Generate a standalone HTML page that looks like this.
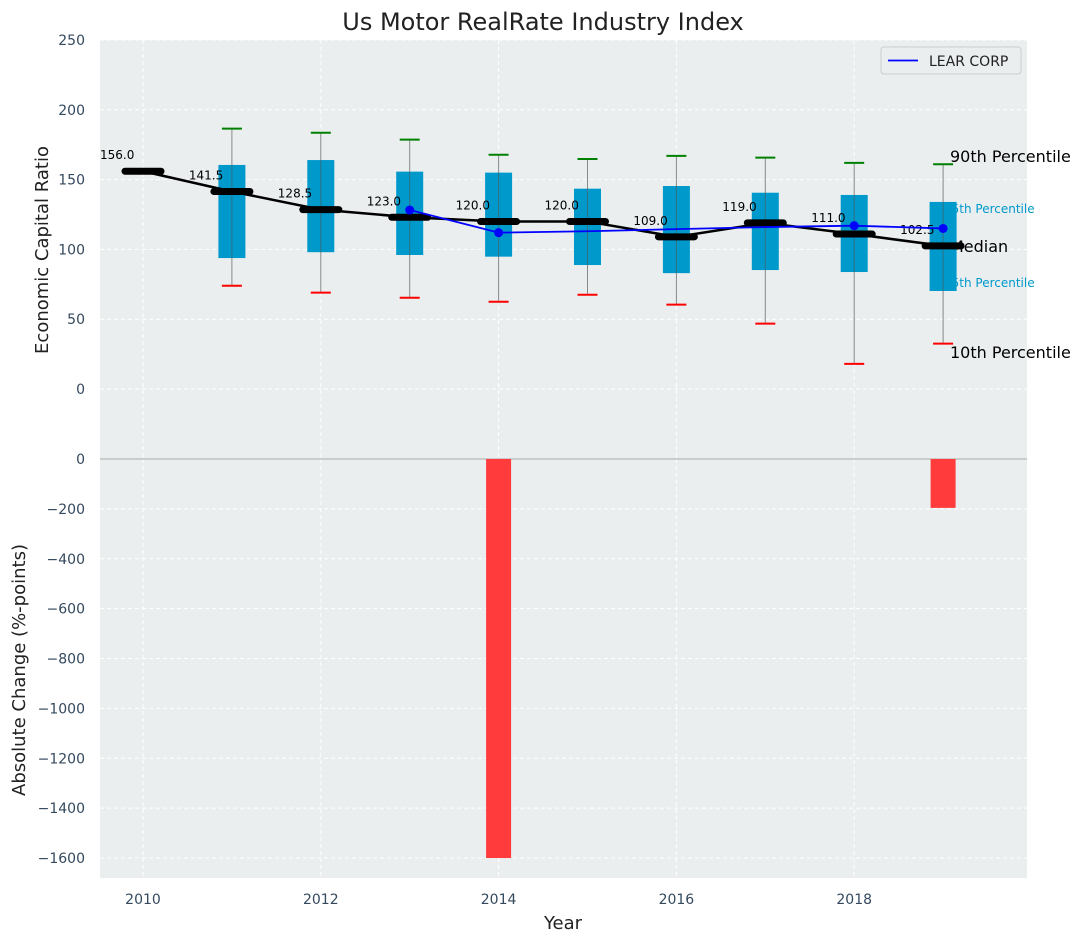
<!DOCTYPE html>
<html><head><meta charset="utf-8"><style>
body{margin:0;background:#fff;font-family:"Liberation Sans","DejaVu Sans",sans-serif}
svg text{font-family:"DejaVu Sans","Liberation Sans",sans-serif}
</style></head><body>
<svg id="c" width="1085" height="942" xmlns="http://www.w3.org/2000/svg"></svg>
<script>
const years=[2010,2011,2012,2013,2014,2015,2016,2017,2018,2019];
const medians=[156,141.5,128.5,123,120,120,109,119,111,102.5];
const q1=[null,93.8,98,96,94.8,88.8,83,85.2,83.8,70.2];
const q3=[null,160.5,164,155.7,155,143.5,145.4,140.6,139,134];
const p10=[null,74,69,65.4,62.5,67.5,60.4,46.8,18,32.5];
const p90=[null,186.5,183.6,178.6,167.8,164.8,167,165.7,162,161];
const learYears=[2013,2014,2015,2016,2017,2018,2019];
const learVals=[128.2,112,113,114.5,116,117,115];
const learMarkers=[2013,2014,2018,2019];
const changeYears=[2014,2019];
const changeVals=[-1600,-196];
const topTicks=[0,50,100,150,200,250];
const botTicks=[0,-200,-400,-600,-800,-1000,-1200,-1400,-1600];
const xTicks=[2010,2012,2014,2016,2018];

const svg=document.getElementById('c');
const NS='http://www.w3.org/2000/svg';
function el(t,a,p){const e=document.createElementNS(NS,t);for(const k in a)e.setAttribute(k,a[k]);(p||svg).appendChild(e);return e;}
const L=100,R=1027;
const X=y=>143+(y-2010)*88.9;
const YT=v=>389-v*1.396;
const YB=v=>459-v*0.2494;
const TC='#34495e';

let e=el('rect',{x:L,y:40,width:R-L,height:419,fill:'#eaeeef'});

e=el('rect',{x:L,y:459,width:R-L,height:419,fill:'#eaeeef'});


for(const t of topTicks){
  el('line',{x1:L,x2:R,y1:YT(t),y2:YT(t),stroke:'#fff','stroke-dasharray':'4,3','stroke-width':1});
  e=el('text',{x:85,y:YT(t)+5,'text-anchor':'end','font-size':14,fill:TC});e.textContent=t;
  
}
for(const t of botTicks){
  el('line',{x1:L,x2:R,y1:YB(t),y2:YB(t),stroke:'#fff','stroke-dasharray':'4,3','stroke-width':1});
  e=el('text',{x:85,y:YB(t)+5,'text-anchor':'end','font-size':14,fill:TC});e.textContent=String(t).replace('-','\u2212');
  
}
for(const t of xTicks){
  el('line',{x1:X(t),x2:X(t),y1:40,y2:459,stroke:'#fff','stroke-dasharray':'4,3'});
  el('line',{x1:X(t),x2:X(t),y1:459,y2:878,stroke:'#fff','stroke-dasharray':'4,3'});
  e=el('text',{x:X(t),y:904,'text-anchor':'middle','font-size':14,fill:TC});e.textContent=t;
  
}
el('line',{x1:L,x2:R,y1:459,y2:459,stroke:'#aaa','stroke-width':1});

// percentile labels (behind boxes)
const labs=[[162,'90th Percentile',16,'#000',950],[213,'75th Percentile',12,'#0099cc',944],[252,'Median',16,'#000',950],[287,'25th Percentile',12,'#0099cc',944],[358,'10th Percentile',16,'#000',950]];
for(const [yy,t,fs,c,xx] of labs){
  e=el('text',{x:xx,y:yy,'font-size':fs,fill:c});e.textContent=t;
  
}

years.forEach((y,i)=>{
  if(q1[i]==null)return;
  const x=X(y);
  el('line',{x1:x,x2:x,y1:YT(p90[i]),y2:YT(p10[i]),stroke:'#888','stroke-width':1});
  let b=el('rect',{x:x-13.5,y:YT(q3[i]),width:27,height:YT(q1[i])-YT(q3[i]),fill:'#0099cc'});
  
  el('line',{x1:x,x2:x,y1:YT(q3[i]),y2:YT(q1[i]),stroke:'#555','stroke-width':1,opacity:0.6});
  el('line',{x1:x-10,x2:x+10,y1:YT(p90[i]),y2:YT(p90[i]),stroke:'green','stroke-width':2});
  el('line',{x1:x-10,x2:x+10,y1:YT(p10[i]),y2:YT(p10[i]),stroke:'red','stroke-width':2});
});

e=el('polyline',{points:years.map((y,i)=>X(y)+','+YT(medians[i])).join(' '),fill:'none',stroke:'#000','stroke-width':2.5});

years.forEach((y,i)=>{
  el('line',{x1:X(y)-18,x2:X(y)+18,y1:YT(medians[i]),y2:YT(medians[i]),stroke:'#000','stroke-width':7,'stroke-linecap':'round'});
  let t=el('text',{x:X(y)-43,y:YT(medians[i])-12,'font-size':12,fill:'#000'});t.textContent=medians[i].toFixed(1);
  
});

e=el('polyline',{points:learYears.map((y,i)=>X(y)+','+YT(learVals[i])).join(' '),fill:'none',stroke:'blue','stroke-width':1.8});

learYears.forEach((y,i)=>{if(learMarkers.includes(y)){const m=el('circle',{cx:X(y),cy:YT(learVals[i]),r:4.5,fill:'blue'});}});

changeYears.forEach((y,i)=>{
  const b=el('rect',{x:X(y)-12.5,y:YB(0),width:25,height:YB(changeVals[i])-YB(0),fill:'#ff3b3b'});
  
});

const g=el('g',{});
el('rect',{x:881,y:47,width:140,height:27,rx:3,fill:'#eaeeef',stroke:'#ccc'},g);
el('line',{x1:888,x2:918,y1:60.5,y2:60.5,stroke:'blue','stroke-width':1.8},g);
e=el('text',{x:929,y:66,'font-size':14,fill:'#222'},g);e.textContent='LEAR CORP';

e=el('text',{x:543,y:30,'text-anchor':'middle','font-size':24,fill:'#222'});e.textContent='Us Motor RealRate Industry Index';

e=el('text',{x:0,y:0,'text-anchor':'middle','font-size':18,fill:'#222',transform:'translate(48,250) rotate(-90)'});e.textContent='Economic Capital Ratio';

e=el('text',{x:0,y:0,'text-anchor':'middle','font-size':18,fill:'#222',transform:'translate(25,670) rotate(-90)'});e.textContent='Absolute Change (%-points)';

e=el('text',{x:563,y:929,'text-anchor':'middle','font-size':18,fill:'#222'});e.textContent='Year';

</script>
</body></html>
